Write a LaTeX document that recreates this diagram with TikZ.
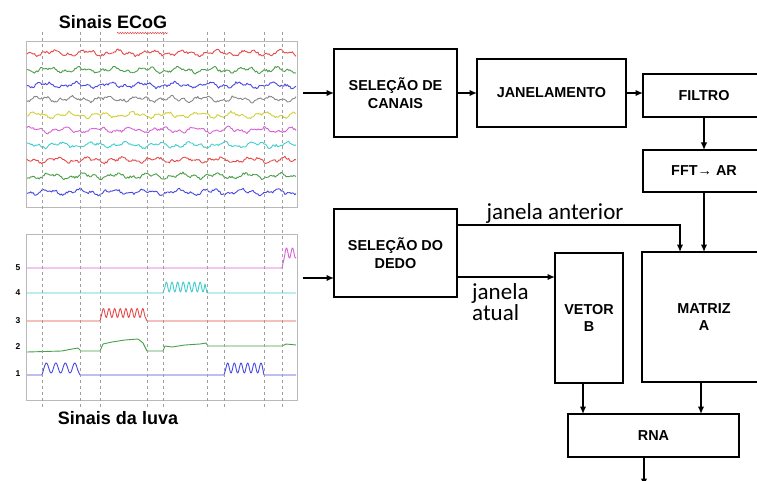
\documentclass[tikz,border=0pt]{standalone}
\usepackage{fontspec}
\setmainfont{Liberation Sans}
\newfontfamily\calibri{Carlito}
\usetikzlibrary{positioning,arrows.meta,decorations.pathmorphing}

\definecolor{sinalvermelho}{RGB}{232,72,72}
\definecolor{sinalverde}{RGB}{72,160,72}
\definecolor{sinalazul}{RGB}{72,72,228}
\definecolor{sinalcinza}{RGB}{135,135,135}
\definecolor{sinalamarelo}{RGB}{208,208,55}
\definecolor{sinalmagenta}{RGB}{215,95,215}
\definecolor{sinalciano}{RGB}{65,205,205}

\begin{document}
\begin{tikzpicture}[
    x=1pt, y=-1pt,
    box/.style={
        draw,
        line width=1.8pt,
        align=center,
        inner sep=2pt,
        outer sep=0pt,
        font=\bfseries\fontsize{14.4}{17.5}\selectfont
    },
    arrow/.style={->,>={Latex[length=7.5pt,width=6.5pt]},line width=1.4pt},
    traco/.style={line width=0.9pt,line join=round},
    moldura/.style={draw=gray!55,line width=0.8pt},
    grade/.style={gray!75,line width=0.8pt,dash pattern=on 3pt off 3pt},
    titulo/.style={font=\bfseries\fontsize{18}{20}\selectfont},
    rotulo/.style={font=\calibri\fontsize{23}{19}\selectfont,inner sep=0pt},
    eixo/.style={font=\bfseries\fontsize{8.5}{9}\selectfont,inner sep=0pt}
]
\useasboundingbox (0,0) rectangle (757,481);
\clip (0,0) rectangle (757,481);
\pgfmathsetseed{4242}

% Sinais ECoG
\node[titulo] (tecog) at (113,22) {Sinais ECoG};
\draw[sinalvermelho,line width=0.5pt,decorate,
    decoration={snake,amplitude=0.7pt,segment length=2.5pt}] (117,33) -- (168,33);
\draw[moldura] (26,41) rectangle (297,207);
\foreach \yy/\cor [count=\i] in {53/sinalvermelho,70/sinalverde,85/sinalazul,
    99/sinalcinza,115/sinalamarelo,130/sinalmagenta,145/sinalciano,
    160/sinalvermelho,176/sinalverde,192/sinalazul}
    \draw[traco,\cor] plot[domain=27:296,samples=220]
        (\x,{\yy+1.8*sin(11*\x+47*\i)+1.3*sin(29*\x+83*\i)+1.1*rand});

% Sinais da luva
\draw[moldura] (26,234) rectangle (297,400);
\node[eixo] (n5) at (18,268) {5};
\node[eixo] (n4) at (18,293) {4};
\node[eixo] (n3) at (18,321) {3};
\node[eixo] (n2) at (18,347) {2};
\node[eixo] (n1) at (18,374) {1};
\draw[traco,sinalmagenta] (27,268) -- (282,268) -- (285,254)
    -- plot[domain=285:296,samples=30] (\x,{253-5*sin(60*(\x-285))});
\draw[traco,sinalciano] (27,293) -- (163,293) -- (165,287)
    -- plot[domain=165:205,samples=80] (\x,{287-5*sin(64*(\x-165))})
    -- (207,293) -- (296,293);
\draw[traco,sinalvermelho] (27,321) -- (100,321) -- (102,313)
    -- plot[domain=102:145,samples=80] (\x,{313-4.5*sin(64*(\x-102))})
    -- (147,321) -- (296,321);
\draw[traco,sinalverde] (27,352) -- (62,351) -- (72,349) -- (78,348) -- (81,351)
    -- (100,351) -- (103,344) -- (112,342) -- (125,340) -- (138,339) -- (143,343)
    -- (147,351) -- (163,351) -- (165,346) -- (172,347) -- (185,345) -- (200,344)
    -- (206,343) -- (208,346) -- (282,346) -- (286,344) -- (296,345);
\draw[traco,sinalazul] (27,375) -- (42,375) -- (44,368)
    -- plot[domain=44:78,samples=60] (\x,{368-5*sin(38*(\x-44))})
    -- (80,375) -- (224,375) -- (226,368)
    -- plot[domain=226:262,samples=70] (\x,{368-5*sin(54*(\x-226))})
    -- (264,375) -- (296,375);
\node[titulo] (tluva) at (118,418) {Sinais da luva};

% Janelas
\foreach \xx in {42,80,100,147,163,207,224,264,282}
    \draw[grade] (\xx,32) -- (\xx,410);

% Fila 1
\node[box, minimum width=123pt, minimum height=88pt] (canais) at (395.5,93) {SELEÇÃO DE\\CANAIS};
\node[box, minimum width=149pt, minimum height=68pt, right=20pt of canais] (janela) {JANELAMENTO};
\node[box, minimum width=122pt, minimum height=43pt] (filtro) at (704,95.5) {FILTRO};
\node[box, minimum width=122pt, minimum height=42pt, below=33pt of filtro] (fft) {FFT→ AR};

% Fila 2
\node[box, minimum width=123pt, minimum height=88pt] (dedo) at (395.5,253) {SELEÇÃO DO\\DEDO};
\node[box, minimum width=68pt, minimum height=130pt] (vetor) at (589,318) {VETOR\\B};
\node[box, minimum width=124pt, minimum height=130pt, below=60pt of fft] (matriz) {MATRIZ\\A};
\node[box, minimum width=171pt, minimum height=43pt] (rna) at (653.5,435.5) {RNA};

% Rotulos
\node[rotulo] (anterior) at (555,213) {janela anterior};
\node[rotulo, align=left, anchor=west] (atualtxt) at (472,302) {janela\\atual};

% Flechas
\coordinate (ecog) at (303,93);
\coordinate (luva) at (303,278);
\coordinate (atual) at ([yshift=20pt]dedo.south east);
\coordinate (vetorsai) at ([xshift=-6pt]vetor.south);
\coordinate (matrizsai) at ([xshift=-3pt]matriz.south);
\coordinate (saida) at ([xshift=-9.5pt]rna.south);
\coordinate (fimy) at (0,486);

\draw[arrow] (ecog) -- (canais.west);
\draw[arrow] (canais) -- (janela);
\draw[arrow] (janela.east) -- (janela.east -| filtro.west);
\draw[arrow] (filtro) -- (fft);
\draw[arrow] (fft.south) -- (fft.south |- matriz.north);

\draw[arrow] (luva) -- (luva -| dedo.west);
\draw[arrow] ([yshift=-16pt]dedo.north east) -| ([xshift=-24pt]matriz.north);
\draw[arrow] (atual) -- (atual -| vetor.west);

\draw[arrow] (vetorsai) -- (vetorsai |- rna.north);
\draw[arrow] (matrizsai) -- (matrizsai |- rna.north);
\draw[arrow] (saida) -- (saida |- fimy);

\end{tikzpicture}
\end{document}
